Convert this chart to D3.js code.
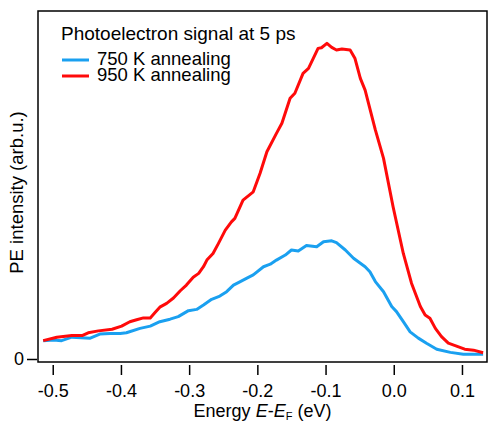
<!DOCTYPE html>
<html>
<head>
<meta charset="utf-8">
<script src="https://cdn.jsdelivr.net/npm/d3@7/dist/d3.min.js"></script>
<style>
  html, body { margin: 0; padding: 0; background: #fff; }
  svg { display: block; font-family: "Liberation Sans", Arial, Helvetica, sans-serif; }
</style>
</head>
<body>
<svg id="chart" width="488" height="422"></svg>
<script>
// ---- data ----
const energy750 = [-0.514,-0.499,-0.487,-0.472,-0.445,-0.431,-0.416,-0.401,-0.392,-0.372,-0.357,-0.343,-0.328,-0.316,-0.301,-0.289,-0.279,-0.267,-0.255,-0.245,-0.235,-0.225,-0.216,-0.206,-0.191,-0.181,-0.172,-0.159,-0.150,-0.140,-0.128,-0.113,-0.103,-0.091,-0.084,-0.071,-0.059,-0.042,-0.035,-0.027,-0.015,-0.003,0.004,0.014,0.024,0.036,0.048,0.063,0.083,0.102,0.131];
const intensity750 = [0.058,0.060,0.058,0.069,0.066,0.079,0.081,0.081,0.083,0.097,0.104,0.118,0.126,0.134,0.153,0.157,0.171,0.189,0.199,0.213,0.234,0.245,0.255,0.266,0.292,0.300,0.313,0.329,0.345,0.342,0.359,0.355,0.371,0.374,0.368,0.345,0.319,0.292,0.276,0.245,0.213,0.166,0.150,0.118,0.086,0.066,0.050,0.031,0.021,0.015,0.015];

const energy950 = [-0.514,-0.494,-0.472,-0.457,-0.448,-0.433,-0.413,-0.399,-0.387,-0.377,-0.367,-0.357,-0.350,-0.343,-0.333,-0.323,-0.313,-0.304,-0.294,-0.286,-0.279,-0.274,-0.265,-0.257,-0.247,-0.238,-0.233,-0.221,-0.206,-0.196,-0.186,-0.172,-0.164,-0.152,-0.145,-0.133,-0.125,-0.111,-0.106,-0.098,-0.091,-0.084,-0.076,-0.064,-0.057,-0.049,-0.042,-0.027,-0.015,-0.001,0.014,0.026,0.039,0.046,0.053,0.061,0.070,0.080,0.092,0.104,0.117,0.131];
const intensity950 = [0.058,0.069,0.074,0.074,0.083,0.089,0.094,0.104,0.118,0.124,0.130,0.130,0.147,0.164,0.176,0.193,0.216,0.234,0.259,0.271,0.292,0.313,0.334,0.366,0.408,0.434,0.445,0.503,0.529,0.588,0.656,0.714,0.746,0.825,0.841,0.904,0.920,0.983,0.985,0.999,0.986,0.978,0.981,0.978,0.952,0.888,0.851,0.725,0.635,0.482,0.334,0.240,0.166,0.139,0.129,0.097,0.071,0.050,0.041,0.031,0.028,0.020];

const xTicks = [-0.5,-0.4,-0.3,-0.2,-0.1,0.0,0.1];
const yTicks = [0];
const seriesNames = ["750 K annealing", "950 K annealing"];
const seriesColors = ["#1aa0f0", "#ff0a0a"];
const legendTitle = "Photoelectron signal at 5 ps";

// ---- layout ----
const plot = { left: 38, right: 487, top: 11, bottom: 362 };
const svg = d3.select("#chart");

const x = d3.scaleLinear().domain([-0.5216, 0.1367]).range([plot.left, plot.right]);
const y = d3.scaleLinear().domain([-0.0095, 1.1013]).range([plot.bottom, plot.top]);

// frame
svg.append("rect")
  .attr("x", plot.left).attr("y", plot.top)
  .attr("width", plot.right - plot.left).attr("height", plot.bottom - plot.top)
  .attr("fill", "none").attr("stroke", "#000").attr("stroke-width", 1.5);

// curves
const series = [
  { e: energy750, v: intensity750, color: seriesColors[0] },
  { e: energy950, v: intensity950, color: seriesColors[1] }
];
const line = d3.line().x(d => x(d[0])).y(d => y(d[1]));
series.forEach(s => {
  svg.append("path")
    .datum(s.e.map((e, i) => [e, s.v[i]]))
    .attr("fill", "none")
    .attr("stroke", s.color)
    .attr("stroke-width", 3)
    .attr("stroke-linejoin", "round")
    .attr("d", line);
});

// bottom axis
const xAxis = d3.axisBottom(x).tickValues(xTicks).tickSize(10).tickPadding(9)
  .tickFormat(d => d.toFixed(1));
const gx = svg.append("g").attr("transform", `translate(0,${plot.bottom + 3})`).call(xAxis);
gx.select(".domain").remove();
gx.selectAll(".tick line").attr("stroke", "#000").attr("stroke-width", 1.5);
gx.selectAll(".tick text").attr("font-size", 18).attr("font-family", "Liberation Sans, Arial, sans-serif").attr("fill", "#000");

// left axis
const yAxis = d3.axisLeft(y).tickValues(yTicks).tickSize(10).tickPadding(3).tickFormat(d => String(d));
const gy = svg.append("g").attr("transform", `translate(${plot.left - 1},0)`).call(yAxis);
gy.select(".domain").remove();
gy.selectAll(".tick line").attr("stroke", "#000").attr("stroke-width", 1.5);
gy.selectAll(".tick text").attr("font-size", 18).attr("font-family", "Liberation Sans, Arial, sans-serif").attr("fill", "#000");

// x title
const xt = svg.append("text")
  .attr("x", (plot.left + plot.right) / 2).attr("y", 417)
  .attr("text-anchor", "middle").attr("font-size", 18).attr("fill", "#000");
xt.append("tspan").text("Energy ");
xt.append("tspan").attr("font-style", "italic").text("E");
xt.append("tspan").text("-");
xt.append("tspan").attr("font-style", "italic").text("E");
xt.append("tspan").attr("font-size", 11).attr("dy", 3).text("F");
xt.append("tspan").attr("dy", -3).text(" (eV)");

// y title
svg.append("text")
  .attr("transform", `translate(22.5,${(plot.top + plot.bottom) / 2 + 6}) rotate(-90)`)
  .attr("text-anchor", "middle").attr("font-size", 18.5).attr("fill", "#000")
  .text("PE intensity (arb.u.)");

// legend
const lg = svg.append("g");
lg.append("text").attr("x", 61).attr("y", 40).attr("font-size", 19).attr("fill", "#000").text(legendTitle);
[60, 76].forEach((ly, i) => {
  lg.append("line").attr("x1", 62).attr("x2", 89).attr("y1", ly).attr("y2", ly)
    .attr("stroke", seriesColors[i]).attr("stroke-width", 3);
  lg.append("text").attr("x", 97).attr("y", ly + 4.5).attr("font-size", 18.5).attr("fill", "#000")
    .text(seriesNames[i]);
});
</script>
</body>
</html>
